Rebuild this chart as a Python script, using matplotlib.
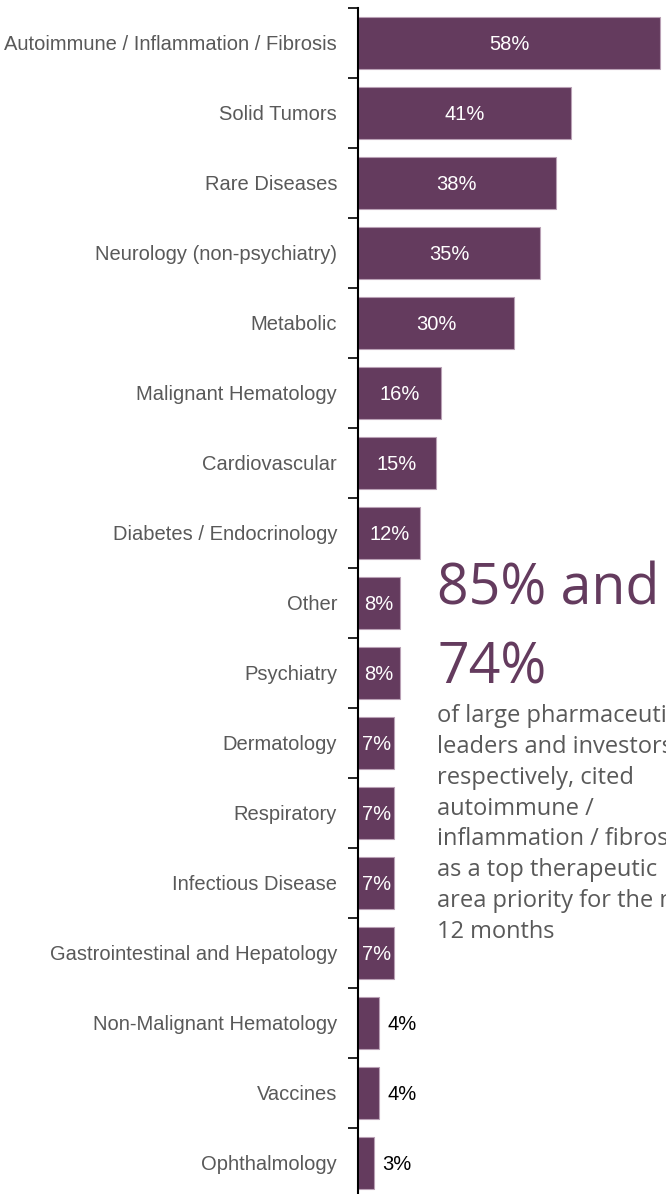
import matplotlib
matplotlib.use("Agg")
import matplotlib.pyplot as plt
from matplotlib.ticker import FixedLocator

# Survey results: share of respondents naming each therapeutic area
areas = [
    "Autoimmune / Inflammation / Fibrosis",
    "Solid Tumors",
    "Rare Diseases",
    "Neurology (non-psychiatry)",
    "Metabolic",
    "Malignant Hematology",
    "Cardiovascular",
    "Diabetes / Endocrinology",
    "Other",
    "Psychiatry",
    "Dermatology",
    "Respiratory",
    "Infectious Disease",
    "Gastrointestinal and Hepatology",
    "Non-Malignant Hematology",
    "Vaccines",
    "Ophthalmology",
]
shares = [58, 41, 38, 35, 30, 16, 15, 12, 8, 8, 7, 7, 7, 7, 4, 4, 3]

headline = "85% and\n74%"
blurb = ("of large pharmaceutical\nleaders and investors,\nrespectively, cited\n"
         "autoimmune /\ninflammation / fibrosis\nas a top therapeutic\n"
         "area priority for the next\n12 months")

BAR = "#643B5E"
EDGE = "#B9A0B5"
LABEL_GREY = "#595959"
NARROW = ["Liberation Sans Narrow", "Liberation Sans", "DejaVu Sans"]
BODY = ["Open Sans", "DejaVu Sans"]
LABEL_SIZE = 14.5

W, H, DPI = 666, 1194, 100
fig = plt.figure(figsize=(W / DPI, H / DPI), dpi=DPI)
ax = fig.add_axes([358 / W, 1 - 1198 / H, 1 - 358 / W, 1190 / H])

y = list(range(len(areas)))
bars = ax.barh(y, shares, height=0.74, color=BAR, edgecolor=EDGE, linewidth=0.8)

ax.set_ylim(len(areas) - 0.5, -0.5)
ax.set_xlim(0, 308 / (302 / 58))

ax.set_yticks(y)
ax.set_yticklabels(areas, family=NARROW, fontsize=LABEL_SIZE, color=LABEL_GREY)
ax.tick_params(axis="y", which="major", length=0, pad=15)
ax.yaxis.set_minor_locator(FixedLocator([i - 0.5 for i in range(len(areas) + 1)]))
ax.tick_params(axis="y", which="minor", length=7, width=1.2, direction="out")
ax.set_xticks([])

for side in ("top", "right", "bottom"):
    ax.spines[side].set_visible(False)
ax.spines["left"].set_linewidth(1.5)

# value labels: inside the bar when it is wide enough, otherwise just past its end
for rect, v in zip(bars, shares):
    cy = rect.get_y() + rect.get_height() / 2
    if v >= 7:
        ax.text(v / 2, cy, f"{v}%", ha="center", va="center_baseline",
                color="white", family=NARROW, fontsize=LABEL_SIZE)
    else:
        ax.annotate(f"{v}%", xy=(v, cy), xytext=(6, 0), textcoords="offset points",
                    ha="left", va="center_baseline", color="black",
                    family=NARROW, fontsize=LABEL_SIZE)

# call-out text to the right of the short bars (runs off the right edge)
fig.text(437 / W, 1 - 683 / H, headline, ha="left", va="baseline",
         color=BAR, family=BODY, fontsize=40, linespacing=1.5)
fig.text(437 / W, 1 - 938 / H, blurb, ha="left", va="baseline",
         color=LABEL_GREY, family=BODY, fontsize=17, linespacing=1.38)

fig.savefig("out.png", dpi=DPI)
